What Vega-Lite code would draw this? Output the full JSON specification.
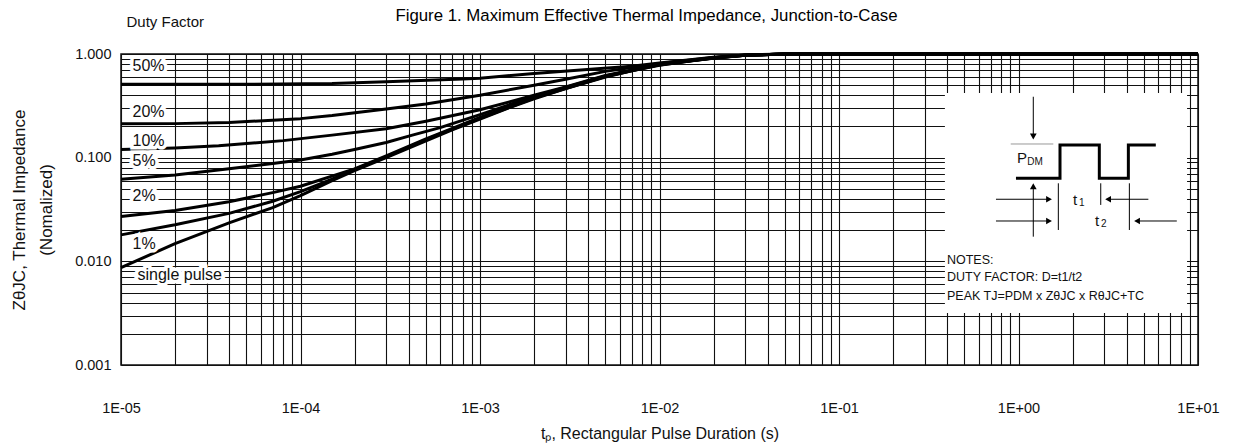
{
  "$schema": "https://vega.github.io/schema/vega-lite/v6.json",
  "width": 1077,
  "height": 311,
  "autosize": "none",
  "padding": {"left": 121, "top": 54, "right": 36, "bottom": 80},
  "background": "white",
  "config": {
    "font": "Liberation Sans",
    "view": {"stroke": "#111", "strokeWidth": 1.5}
  },
  "title": {
    "text": "Figure 1. Maximum Effective Thermal Impedance, Junction-to-Case",
    "fontSize": 16.8,
    "fontWeight": "normal",
    "color": "#000",
    "offset": -10,
    "dx": -13
  },
  "datasets": {
    "curves": [
      {"series": "single pulse", "t": 0.00001, "z": 0.0087},
      {"series": "single pulse", "t": 0.00002, "z": 0.0148},
      {"series": "single pulse", "t": 0.00004, "z": 0.0235},
      {"series": "single pulse", "t": 0.00007, "z": 0.033},
      {"series": "single pulse", "t": 0.0001, "z": 0.043},
      {"series": "single pulse", "t": 0.00015, "z": 0.06},
      {"series": "single pulse", "t": 0.0002, "z": 0.075},
      {"series": "single pulse", "t": 0.0003, "z": 0.1},
      {"series": "single pulse", "t": 0.0005, "z": 0.145},
      {"series": "single pulse", "t": 0.0007, "z": 0.185},
      {"series": "single pulse", "t": 0.001, "z": 0.235},
      {"series": "single pulse", "t": 0.0015, "z": 0.31},
      {"series": "single pulse", "t": 0.002, "z": 0.37},
      {"series": "single pulse", "t": 0.003, "z": 0.465},
      {"series": "single pulse", "t": 0.005, "z": 0.6},
      {"series": "single pulse", "t": 0.007, "z": 0.69},
      {"series": "single pulse", "t": 0.01, "z": 0.78},
      {"series": "single pulse", "t": 0.015, "z": 0.86},
      {"series": "single pulse", "t": 0.02, "z": 0.91},
      {"series": "single pulse", "t": 0.03, "z": 0.97},
      {"series": "single pulse", "t": 0.05, "z": 1.0},
      {"series": "single pulse", "t": 10, "z": 1.0},

      {"series": "1%", "t": 0.00001, "z": 0.018},
      {"series": "1%", "t": 0.00002, "z": 0.0225},
      {"series": "1%", "t": 0.00004, "z": 0.029},
      {"series": "1%", "t": 0.00007, "z": 0.038},
      {"series": "1%", "t": 0.0001, "z": 0.047},
      {"series": "1%", "t": 0.00015, "z": 0.062},
      {"series": "1%", "t": 0.0002, "z": 0.077},
      {"series": "1%", "t": 0.0003, "z": 0.102},
      {"series": "1%", "t": 0.0005, "z": 0.149},
      {"series": "1%", "t": 0.001, "z": 0.24},
      {"series": "1%", "t": 0.002, "z": 0.375},
      {"series": "1%", "t": 0.005, "z": 0.605},
      {"series": "1%", "t": 0.01, "z": 0.785},
      {"series": "1%", "t": 0.02, "z": 0.915},
      {"series": "1%", "t": 0.03, "z": 0.972},
      {"series": "1%", "t": 0.05, "z": 1.0},
      {"series": "1%", "t": 10, "z": 1.0},

      {"series": "2%", "t": 0.00001, "z": 0.027},
      {"series": "2%", "t": 0.00002, "z": 0.031},
      {"series": "2%", "t": 0.00004, "z": 0.0376},
      {"series": "2%", "t": 0.00007, "z": 0.046},
      {"series": "2%", "t": 0.0001, "z": 0.053},
      {"series": "2%", "t": 0.0002, "z": 0.078},
      {"series": "2%", "t": 0.0003, "z": 0.104},
      {"series": "2%", "t": 0.0005, "z": 0.152},
      {"series": "2%", "t": 0.001, "z": 0.245},
      {"series": "2%", "t": 0.002, "z": 0.38},
      {"series": "2%", "t": 0.005, "z": 0.61},
      {"series": "2%", "t": 0.01, "z": 0.79},
      {"series": "2%", "t": 0.02, "z": 0.915},
      {"series": "2%", "t": 0.03, "z": 0.972},
      {"series": "2%", "t": 0.05, "z": 1.0},
      {"series": "2%", "t": 10, "z": 1.0},

      {"series": "5%", "t": 0.00001, "z": 0.062},
      {"series": "5%", "t": 0.00002, "z": 0.068},
      {"series": "5%", "t": 0.00004, "z": 0.078},
      {"series": "5%", "t": 0.00007, "z": 0.088},
      {"series": "5%", "t": 0.0001, "z": 0.095},
      {"series": "5%", "t": 0.00015, "z": 0.108},
      {"series": "5%", "t": 0.0002, "z": 0.12},
      {"series": "5%", "t": 0.0003, "z": 0.14},
      {"series": "5%", "t": 0.00042, "z": 0.165},
      {"series": "5%", "t": 0.0006, "z": 0.195},
      {"series": "5%", "t": 0.001, "z": 0.26},
      {"series": "5%", "t": 0.002, "z": 0.39},
      {"series": "5%", "t": 0.005, "z": 0.615},
      {"series": "5%", "t": 0.01, "z": 0.79},
      {"series": "5%", "t": 0.02, "z": 0.92},
      {"series": "5%", "t": 0.03, "z": 0.973},
      {"series": "5%", "t": 0.05, "z": 1.0},
      {"series": "5%", "t": 10, "z": 1.0},

      {"series": "10%", "t": 0.00001, "z": 0.12},
      {"series": "10%", "t": 0.00002, "z": 0.124},
      {"series": "10%", "t": 0.000035, "z": 0.13},
      {"series": "10%", "t": 0.00008, "z": 0.146},
      {"series": "10%", "t": 0.00015, "z": 0.165},
      {"series": "10%", "t": 0.0003, "z": 0.19},
      {"series": "10%", "t": 0.0005, "z": 0.225},
      {"series": "10%", "t": 0.001, "z": 0.29},
      {"series": "10%", "t": 0.002, "z": 0.4},
      {"series": "10%", "t": 0.003, "z": 0.48},
      {"series": "10%", "t": 0.005, "z": 0.62},
      {"series": "10%", "t": 0.01, "z": 0.795},
      {"series": "10%", "t": 0.02, "z": 0.92},
      {"series": "10%", "t": 0.03, "z": 0.974},
      {"series": "10%", "t": 0.05, "z": 1.0},
      {"series": "10%", "t": 10, "z": 1.0},

      {"series": "20%", "t": 0.00001, "z": 0.212},
      {"series": "20%", "t": 0.00002, "z": 0.213},
      {"series": "20%", "t": 0.00004, "z": 0.218},
      {"series": "20%", "t": 0.0001, "z": 0.238},
      {"series": "20%", "t": 0.00015, "z": 0.255},
      {"series": "20%", "t": 0.0003, "z": 0.295},
      {"series": "20%", "t": 0.0005, "z": 0.33},
      {"series": "20%", "t": 0.001, "z": 0.4},
      {"series": "20%", "t": 0.002, "z": 0.5},
      {"series": "20%", "t": 0.003, "z": 0.57},
      {"series": "20%", "t": 0.005, "z": 0.68},
      {"series": "20%", "t": 0.01, "z": 0.81},
      {"series": "20%", "t": 0.02, "z": 0.925},
      {"series": "20%", "t": 0.03, "z": 0.976},
      {"series": "20%", "t": 0.05, "z": 1.0},
      {"series": "20%", "t": 10, "z": 1.0},

      {"series": "50%", "t": 0.00001, "z": 0.51},
      {"series": "50%", "t": 0.00005, "z": 0.511},
      {"series": "50%", "t": 0.00015, "z": 0.52},
      {"series": "50%", "t": 0.0003, "z": 0.54},
      {"series": "50%", "t": 0.0008, "z": 0.574},
      {"series": "50%", "t": 0.001, "z": 0.585},
      {"series": "50%", "t": 0.002, "z": 0.65},
      {"series": "50%", "t": 0.0045, "z": 0.72},
      {"series": "50%", "t": 0.007, "z": 0.76},
      {"series": "50%", "t": 0.01, "z": 0.82},
      {"series": "50%", "t": 0.02, "z": 0.93},
      {"series": "50%", "t": 0.03, "z": 0.978},
      {"series": "50%", "t": 0.05, "z": 1.0},
      {"series": "50%", "t": 10, "z": 1.0}
    ],
    "labels": [
      {"text": "50%", "t": 0.0000116, "z": 0.766},
      {"text": "20%", "t": 0.0000116, "z": 0.273},
      {"text": "10%", "t": 0.0000116, "z": 0.145},
      {"text": "5%", "t": 0.0000116, "z": 0.0929},
      {"text": "2%", "t": 0.0000116, "z": 0.0427},
      {"text": "1%", "t": 0.0000116, "z": 0.0147},
      {"text": "single pulse", "t": 0.00001236, "z": 0.00738}
    ],
    "box": [
      {"t": 0.389, "t2": 8.69, "z": 0.42, "z2": 0.00318}
    ],
    "diagram": [
      {"part": "wave", "o": 1, "t": 0.968, "z": 0.0632},
      {"part": "wave", "o": 2, "t": 1.703, "z": 0.0632},
      {"part": "wave", "o": 3, "t": 1.703, "z": 0.1325},
      {"part": "wave", "o": 4, "t": 2.82, "z": 0.1325},
      {"part": "wave", "o": 5, "t": 2.82, "z": 0.0632},
      {"part": "wave", "o": 6, "t": 4.093, "z": 0.0632},
      {"part": "wave", "o": 7, "t": 4.093, "z": 0.1325},
      {"part": "wave", "o": 8, "t": 5.82, "z": 0.1325},
      {"part": "pdm top", "o": 1, "t": 0.905, "z": 0.1355},
      {"part": "pdm top", "o": 2, "t": 1.563, "z": 0.1355},
      {"part": "down arrow", "o": 1, "t": 1.209, "z": 0.387},
      {"part": "down arrow", "o": 2, "t": 1.209, "z": 0.16},
      {"part": "up arrow", "o": 1, "t": 1.209, "z": 0.01729},
      {"part": "up arrow", "o": 2, "t": 1.209, "z": 0.053},
      {"part": "mark a", "o": 1, "t": 1.667, "z": 0.0566},
      {"part": "mark a", "o": 2, "t": 1.667, "z": 0.02006},
      {"part": "mark b", "o": 1, "t": 2.872, "z": 0.0566},
      {"part": "mark b", "o": 2, "t": 2.872, "z": 0.035},
      {"part": "mark c", "o": 1, "t": 4.146, "z": 0.0566},
      {"part": "mark c", "o": 2, "t": 4.146, "z": 0.02006},
      {"part": "t1 left", "o": 1, "t": 0.749, "z": 0.0397},
      {"part": "t1 left", "o": 2, "t": 1.48, "z": 0.0397},
      {"part": "t1 right", "o": 1, "t": 5.29, "z": 0.0397},
      {"part": "t1 right", "o": 2, "t": 3.15, "z": 0.0397},
      {"part": "t2 left", "o": 1, "t": 0.749, "z": 0.0245},
      {"part": "t2 left", "o": 2, "t": 1.48, "z": 0.0245},
      {"part": "t2 right", "o": 1, "t": 7.62, "z": 0.0245},
      {"part": "t2 right", "o": 2, "t": 4.58, "z": 0.0245}
    ],
    "heads": [
      {"dir": "down", "t": 1.209, "z": 0.16},
      {"dir": "up", "t": 1.209, "z": 0.053},
      {"dir": "right", "t": 1.479, "z": 0.0397},
      {"dir": "left", "t": 3.155, "z": 0.0397},
      {"dir": "right", "t": 1.479, "z": 0.0245},
      {"dir": "left", "t": 4.576, "z": 0.0245}
    ],
    "insetText": [
      {"kind": "big", "text": "P", "t": 0.98, "z": 0.0993},
      {"kind": "sub", "text": "DM", "t": 1.12, "z": 0.0908},
      {"kind": "big", "text": "t", "t": 2.013, "z": 0.039},
      {"kind": "sub", "text": "1", "t": 2.175, "z": 0.0365},
      {"kind": "big", "text": "t", "t": 2.67, "z": 0.0245},
      {"kind": "sub", "text": "2", "t": 2.884, "z": 0.0229},
      {"kind": "note", "text": "NOTES:", "t": 0.3995, "z": 0.0103},
      {"kind": "note", "text": "DUTY FACTOR: D=t1/t2", "t": 0.3995, "z": 0.00706},
      {"kind": "note", "text": "PEAK TJ=PDM x ZθJC x RθJC+TC", "t": 0.3995, "z": 0.00463}
    ],
    "header": [
      {"text": "Duty Factor", "t": 0.00001073, "z": 2.035}
    ]
  },
  "encoding": {
    "x": {
      "field": "t",
      "type": "quantitative",
      "scale": {"type": "log", "domain": [0.00001, 10], "nice": false},
      "axis": {
        "values": [0.00001, 0.00002, 0.00003, 0.00004, 0.00005, 0.00006, 0.00007, 0.00008, 0.00009,
                   0.0001, 0.0002, 0.0003, 0.0004, 0.0005, 0.0006, 0.0007, 0.0008, 0.0009,
                   0.001, 0.002, 0.003, 0.004, 0.005, 0.006, 0.007, 0.008, 0.009,
                   0.01, 0.02, 0.03, 0.04, 0.05, 0.06, 0.07, 0.08, 0.09,
                   0.1, 0.2, 0.3, 0.4, 0.5, 0.6, 0.7, 0.8, 0.9,
                   1, 2, 3, 4, 5, 6, 7, 8, 9, 10],
        "grid": true,
        "gridColor": "#111",
        "gridWidth": 1.1,
        "ticks": false,
        "domain": false,
        "labelOverlap": false,
        "labelFlush": false,
        "labelExpr": "abs(log(datum.value)/LN10 - round(log(datum.value)/LN10)) < 0.01 ? '1E' + (round(log(datum.value)/LN10) < 0 ? '-' : '+') + '0' + abs(round(log(datum.value)/LN10)) : ''",
        "labelPadding": 36,
        "labelFontSize": 14.5,
        "labelColor": "#111",
        "title": "tₚ, Rectangular Pulse Duration (s)",
        "titleFontSize": 16,
        "titleFontWeight": "normal",
        "titleColor": "#111",
        "titlePadding": 11
      }
    },
    "y": {
      "field": "z",
      "type": "quantitative",
      "scale": {"type": "log", "domain": [0.001, 1], "nice": false},
      "axis": {
        "values": [0.001, 0.002, 0.003, 0.004, 0.005, 0.006, 0.007, 0.008, 0.009,
                   0.01, 0.02, 0.03, 0.04, 0.05, 0.06, 0.07, 0.08, 0.09,
                   0.1, 0.2, 0.3, 0.4, 0.5, 0.6, 0.7, 0.8, 0.9, 1],
        "grid": true,
        "gridColor": "#111",
        "gridWidth": 1.1,
        "ticks": false,
        "domain": false,
        "labelOverlap": false,
        "labelFlush": false,
        "labelExpr": "abs(log(datum.value)/LN10 - round(log(datum.value)/LN10)) < 0.01 ? format(datum.value, '.3f') : ''",
        "labelPadding": 10,
        "labelFontSize": 14.5,
        "labelColor": "#111",
        "title": ["ZθJC, Thermal Impedance", "(Nomalized)"],
        "titleFontSize": 17,
        "titleFontWeight": "normal",
        "titleColor": "#111",
        "titleLineHeight": 27,
        "titlePadding": 19
      }
    }
  },
  "layer": [
    {
      "data": {"name": "box"},
      "mark": {"type": "rect", "fill": "white", "stroke": null},
      "encoding": {"x2": {"field": "t2"}, "y2": {"field": "z2"}}
    },
    {
      "data": {"name": "curves"},
      "mark": {"type": "line", "color": "black", "strokeWidth": 3, "strokeJoin": "round"},
      "encoding": {"detail": {"field": "series"}}
    },
    {
      "data": {"name": "labels"},
      "mark": {"type": "text", "align": "left", "baseline": "middle", "fontSize": 16, "stroke": "white", "strokeWidth": 7, "strokeJoin": "miter", "fill": "white"},
      "encoding": {"text": {"field": "text"}}
    },
    {
      "data": {"name": "labels"},
      "mark": {"type": "text", "align": "left", "baseline": "middle", "fontSize": 16, "fill": "#111"},
      "encoding": {"text": {"field": "text"}}
    },
    {
      "data": {"name": "header"},
      "mark": {"type": "text", "align": "left", "baseline": "middle", "fontSize": 15, "fill": "#111"},
      "encoding": {"text": {"field": "text"}}
    },
    {
      "data": {"name": "diagram"},
      "transform": [{"filter": "datum.part == 'wave'"}],
      "mark": {"type": "line", "color": "black", "strokeWidth": 3, "strokeJoin": "miter"},
      "encoding": {"detail": {"field": "part"}, "order": {"field": "o"}}
    },
    {
      "data": {"name": "diagram"},
      "transform": [{"filter": "datum.part == 'pdm top'"}],
      "mark": {"type": "line", "color": "#999", "strokeWidth": 1},
      "encoding": {"detail": {"field": "part"}, "order": {"field": "o"}}
    },
    {
      "data": {"name": "diagram"},
      "transform": [{"filter": "datum.part != 'wave' && datum.part != 'pdm top'"}],
      "mark": {"type": "line", "color": "black", "strokeWidth": 1},
      "encoding": {"detail": {"field": "part"}, "order": {"field": "o"}}
    },
    {
      "data": {"name": "heads"},
      "mark": {"type": "point", "filled": true, "color": "black", "size": 45, "opacity": 1},
      "encoding": {
        "shape": {
          "field": "dir",
          "scale": {"domain": ["down", "up", "right", "left"], "range": ["triangle-down", "triangle-up", "triangle-right", "triangle-left"]},
          "legend": null
        }
      }
    },
    {
      "data": {"name": "insetText"},
      "transform": [{"filter": "datum.kind == 'big'"}],
      "mark": {"type": "text", "align": "left", "baseline": "middle", "fontSize": 15, "fill": "#111"},
      "encoding": {"text": {"field": "text"}}
    },
    {
      "data": {"name": "insetText"},
      "transform": [{"filter": "datum.kind == 'sub'"}],
      "mark": {"type": "text", "align": "left", "baseline": "middle", "fontSize": 10, "fill": "#111"},
      "encoding": {"text": {"field": "text"}}
    },
    {
      "data": {"name": "insetText"},
      "transform": [{"filter": "datum.kind == 'note'"}],
      "mark": {"type": "text", "align": "left", "baseline": "middle", "fontSize": 12.5, "fill": "#111"},
      "encoding": {"text": {"field": "text"}}
    }
  ]
}
